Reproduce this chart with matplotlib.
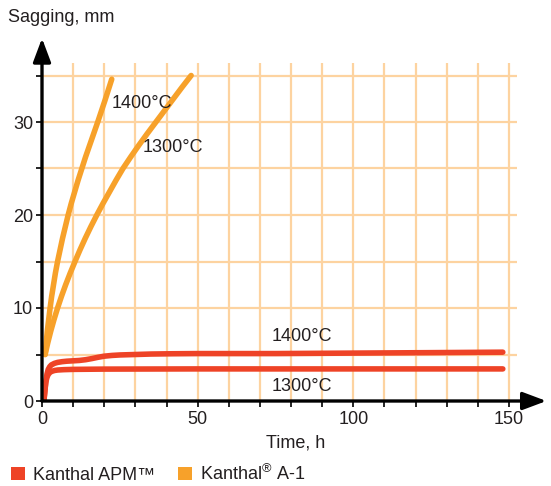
import matplotlib
matplotlib.use("Agg")
import matplotlib.pyplot as plt
from matplotlib.patches import Patch

plt.rcParams['font.family'] = ['Liberation Sans', 'DejaVu Sans']
plt.rcParams['mathtext.fontset'] = 'custom'
plt.rcParams['mathtext.rm'] = 'Liberation Sans'

# ---- data ----
a1_1400_x = [1.0, 1.35, 1.7, 2.15, 2.6, 3.1, 3.7, 4.3, 5.0, 5.8, 6.6, 7.5, 8.4, 9.4, 10.5, 11.6, 12.8, 14.0, 15.3, 16.6, 17.9, 19.1, 20.2, 21.3, 22.4]
a1_1400_y = [5.0, 6.25, 7.5, 8.75, 10.0, 11.25, 12.5, 13.75, 15.0, 16.25, 17.5, 18.75, 20.0, 21.25, 22.5, 23.75, 25.0, 26.25, 27.5, 28.75, 30.0, 31.2, 32.3, 33.45, 34.6]
a1_1300_x = [1.0, 1.85, 2.8, 3.85, 5.0, 6.25, 7.6, 9.05, 10.6, 12.2, 13.9, 15.7, 17.6, 19.6, 21.7, 23.8, 26.0, 28.5, 31.1, 33.8, 36.6, 39.4, 42.2, 45.0, 47.9]
a1_1300_y = [5.0, 6.25, 7.5, 8.75, 10.0, 11.25, 12.5, 13.75, 15.0, 16.25, 17.5, 18.75, 20.0, 21.25, 22.5, 23.75, 25.0, 26.25, 27.5, 28.75, 30.0, 31.25, 32.5, 33.75, 35.0]
apm_1400_x = [0.6, 0.9, 1.2, 1.6, 2.0, 2.5, 3.0, 4.0, 5.0, 6.5, 8.0, 10.0, 12.0, 14.0, 16.0, 18.0, 20.0, 22.5, 25.0, 30.0, 35.0, 42.0, 50.0, 75.0, 100.0, 125.0, 148.0]
apm_1400_y = [0.0, 1.0, 2.0, 2.9, 3.4, 3.7, 3.88, 4.05, 4.15, 4.23, 4.28, 4.32, 4.36, 4.44, 4.56, 4.7, 4.82, 4.9, 4.95, 5.0, 5.05, 5.08, 5.1, 5.1, 5.15, 5.2, 5.25]
apm_1300_x = [0.6, 0.9, 1.2, 1.6, 2.0, 2.5, 3.0, 4.0, 5.0, 7.0, 10.0, 20.0, 50.0, 100.0, 148.0]
apm_1300_y = [0.0, 1.0, 2.0, 2.55, 2.85, 3.05, 3.17, 3.28, 3.33, 3.37, 3.4, 3.43, 3.45, 3.45, 3.45]

x_major = [0, 50, 100, 150]
y_major = [0, 10, 20, 30]
x_grid = list(range(10, 151, 10))
y_grid = list(range(5, 36, 5))

series_labels = ["Kanthal APM\u2122", "Kanthal$^{\\circledR}$ A-1"]
curve_labels = ["1400\u00b0C", "1300\u00b0C", "1400\u00b0C", "1300\u00b0C"]

RED = '#EE4326'
ORANGE = '#F7A12A'
GRID = '#FDD3A0'
TXT = '#231F20'

W, H = 551, 486
fig = plt.figure(figsize=(W / 100, H / 100), dpi=100)
ax = fig.add_axes([42 / W, 1 - 401 / H, (546.4 - 42) / W, (401 - 38.3) / H])
ax.set_xlim(0, 162)
ax.set_ylim(0, 39)
for s in ax.spines.values():
    s.set_visible(False)

# grid
ax.vlines(x_grid, 0, 36.3, colors=GRID, lw=1.6, zorder=1)
ax.hlines(y_grid, 0, 152.7, colors=GRID, lw=1.6, zorder=1)

# curves
kw = dict(lw=4.0, solid_capstyle='round', solid_joinstyle='round', zorder=3)
ax.plot(a1_1400_x, a1_1400_y, color=ORANGE, **kw)
ax.plot(a1_1300_x, a1_1300_y, color=ORANGE, **kw)
ax.plot(apm_1400_x, apm_1400_y, color=RED, **kw)
ax.plot(apm_1300_x, apm_1300_y, color=RED, **kw)

fs = 13
ax.text(22.5, 32.0, curve_labels[0], fontsize=fs, color=TXT, va='center', ha='left', zorder=4)
ax.text(32.4, 27.3, curve_labels[1], fontsize=fs, color=TXT, va='center', ha='left', zorder=4)
ax.text(73.9, 6.9, curve_labels[2], fontsize=fs, color=TXT, va='center', ha='left', zorder=4)
ax.text(73.9, 1.6, curve_labels[3], fontsize=fs, color=TXT, va='center', ha='left', zorder=4)

# axes arrows
arw = dict(arrowstyle='-|>,head_length=0.8,head_width=0.3', mutation_scale=18,
           lw=2.4, color='black', shrinkA=0, shrinkB=0)
ax.annotate('', xy=(162, 0), xytext=(0, 0), arrowprops=arw, annotation_clip=False, zorder=5)
ax.annotate('', xy=(0, 39), xytext=(0, 0), arrowprops=arw, annotation_clip=False, zorder=5)

# ticks
ax.set_xticks(list(range(0, 151, 10)))
ax.set_xticklabels([str(v) if v in x_major else '' for v in range(0, 151, 10)])
ax.set_yticks(list(range(0, 36, 5)))
ax.set_yticklabels([str(v) if v in y_major else '' for v in range(0, 36, 5)])
ax.tick_params(axis='both', direction='out', length=4.5, width=1.2, color='black',
               labelsize=fs, labelcolor=TXT)
ax.tick_params(axis='x', pad=3)
ax.tick_params(axis='y', pad=2)

fig.text(8 / W, 1 - 18 / H, "Sagging, mm", fontsize=fs, color=TXT, va='center', ha='left')
fig.text(296 / W, 1 - 443 / H, "Time, h", fontsize=fs, color=TXT, va='center', ha='center')

handles = [Patch(facecolor=RED, edgecolor='none'), Patch(facecolor=ORANGE, edgecolor='none')]
fig.legend(handles, series_labels, loc='center left', bbox_to_anchor=(4 / W, 1 - 474 / H),
           ncol=2, frameon=False, fontsize=fs, handlelength=0.75, handleheight=0.75,
           handletextpad=0.45, columnspacing=1.3, labelcolor=TXT, borderaxespad=0)

fig.savefig('out.png', dpi=100)
